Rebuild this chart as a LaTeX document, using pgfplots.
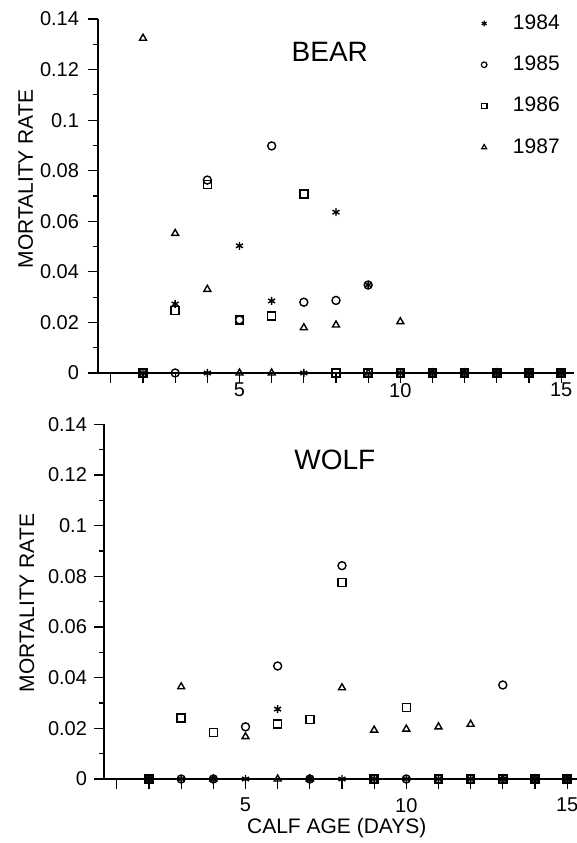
\documentclass[border=0pt]{standalone}
\usepackage{fontspec}
\setmainfont{Liberation Sans}
\usepackage{pgfplots}
\pgfplotsset{compat=1.18}
\pgfplotsset{
 mr/.style={
  width=238pt, height=177pt, scale only axis,
  xmin=0.6, xmax=15.4, ymin=0, ymax=0.14,
  axis lines=left, axis line style={-, line width=0.7pt},
  tick align=outside, major tick length=5pt, minor tick length=2.5pt,
  tick style={line width=0.6pt, black},
  xtick={1,...,15}, xticklabels={,,,,5,,,,,10,,,,,15},
  ytick={0,0.02,0.04,0.06,0.08,0.1,0.12,0.14},
  yticklabels={0,0.02,0.04,0.06,0.08,0.1,0.12,0.14},
  minor y tick num=1,
  tick label style={font=\fontsize{10}{12}\selectfont},
  label style={font=\fontsize{10.5}{12}\selectfont},
  ylabel={MORTALITY RATE},
  clip=false,
  only marks,
  every axis plot/.append style={mark size=2pt, line width=0.7pt, black},
 }
}
\begin{document}
\begin{tikzpicture}
\useasboundingbox (0,0) rectangle (288.5pt,421.5pt);
% ---------------- BEAR ----------------
\begin{axis}[mr, at={(49pt,235pt)}, anchor=south west,
  yticklabel style={xshift=-1pt},
  xticklabel style={yshift=3.5pt},
  ylabel style={at={(axis description cs:-0.152,0.548)}, anchor=center},
  legend style={at={(axis description cs:0.792,1.036)}, anchor=north west,
    draw=none, fill=none, font=\fontsize{10.5}{12}\selectfont, row sep=7.8pt,
    /tikz/every odd column/.append style={column sep=11pt}},
  legend cell align=left,
  legend image post style={mark size=1.4pt, line width=0.6pt}]
\addplot[mark=asterisk] coordinates {(2,0) (3,0.0273) (4,0) (5,0.0503) (6,0.0285) (7,0) (8,0.0636) (9,0.0348) (10,0) (11,0) (12,0) (13,0) (14,0) (15,0)};
\addplot[mark=o] coordinates {(2,0) (3,0) (4,0.0763) (5,0.021) (6,0.0898) (7,0.028) (8,0.0287) (9,0.0348) (10,0) (11,0) (12,0) (13,0) (14,0) (15,0)};
\addplot[mark=square] coordinates {(2,0) (3,0.0246) (4,0.0745) (5,0.021) (6,0.0225) (7,0.0708) (8,0) (9,0) (10,0) (11,0) (12,0) (13,0) (14,0) (15,0)};
\addplot[mark=triangle] coordinates {(2,0.1324) (3,0.0552) (4,0.0331) (5,0) (6,0) (7,0.0179) (8,0.019) (9,0) (10,0.0203) (11,0) (12,0) (13,0) (14,0) (15,0)};
\legend{1984,1985,1986,1987}
\node[font=\fontsize{14}{16}\selectfont] at (rel axis cs:0.487,0.907) {BEAR};
\end{axis}
% ---------------- WOLF ----------------
\begin{axis}[mr, at={(52pt,32pt)}, anchor=south west, height=177.35pt,
  xticklabel style={yshift=-1pt},
  ylabel style={at={(axis description cs:-0.162,0.496)}, anchor=center},
  xlabel={CALF AGE (DAYS)},
  xlabel style={at={(axis description cs:0.489,-0.137)}, anchor=center}]
\addplot[mark=asterisk] coordinates {(2,0) (3,0) (4,0) (5,0) (6,0.0276) (7,0) (8,0) (9,0) (10,0) (11,0) (12,0) (13,0) (14,0) (15,0)};
\addplot[mark=o] coordinates {(2,0) (3,0) (4,0) (5,0.0206) (6,0.0446) (7,0) (8,0.0842) (9,0) (10,0) (11,0) (12,0) (13,0.0371) (14,0) (15,0)};
\addplot[mark=square] coordinates {(2,0) (3,0.024) (4,0.0184) (6,0.0217) (7,0.0236) (8,0.0776) (9,0) (10,0.0283) (11,0) (12,0) (13,0) (14,0) (15,0)};
\addplot[mark=triangle] coordinates {(2,0) (3,0.0364) (4,0) (5,0.0167) (6,0) (7,0) (8,0.036) (9,0.0193) (10,0.0197) (11,0.0206) (12,0.0216) (13,0) (14,0) (15,0)};
\node[font=\fontsize{14}{16}\selectfont] at (rel axis cs:0.485,0.899) {WOLF};
\end{axis}
\end{tikzpicture}
\end{document}
